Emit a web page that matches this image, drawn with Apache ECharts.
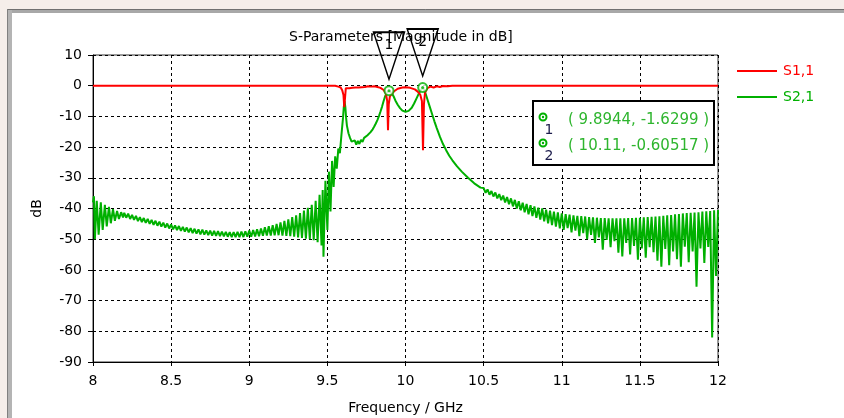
<!DOCTYPE html>
<html><head><meta charset="utf-8">
<script src="https://cdn.jsdelivr.net/npm/echarts@6/dist/echarts.min.js"></script>
<style>html,body{margin:0;padding:0;background:#fff}#c{width:844px;height:418px}</style>
</head><body><div id="c"></div>
<script>
// ---- data ----
const xTickMin = 8, xTickMax = 12, xTickStep = 0.5;
const yTickMin = -90, yTickMax = 10, yTickStep = 10;

const seriesNames = ['S1,1', 'S2,1'];

// S1,1 [GHz, dB]
const s11 = [
  [8.00,0],[9.55,0],[9.57,-0.3],[9.585,-0.6],[9.595,-1.5],[9.603,-3],[9.608,-7],[9.613,-4],[9.618,-0.8],
  [9.63,-0.4],[9.64,-0.8],[9.65,-0.3],[9.66,-0.7],[9.67,-0.3],[9.68,-0.6],[9.69,-0.2],[9.70,-0.6],[9.71,-0.2],
  [9.72,-0.5],[9.73,-0.2],[9.74,-0.4],[9.76,-0.2],[9.78,-0.3],[9.80,-0.2],[9.82,-0.4],[9.84,-0.7],[9.86,-1.4],
  [9.875,-2.6],[9.883,-5],[9.888,-14.5],[9.893,-6],[9.90,-3.5],[9.91,-2.8],[9.925,-1.9],[9.95,-1.0],[9.98,-0.6],
  [10.00,-0.5],[10.03,-0.7],[10.06,-1.2],[10.08,-2.0],[10.095,-3.0],[10.105,-5],[10.112,-21],[10.118,-6],
  [10.125,-2.2],[10.14,-0.8],[10.16,-0.3],[10.18,-0.6],[10.20,-0.2],[10.22,-0.4],[10.24,-0.1],[10.27,-0.2],
  [10.30,0],[12.00,0]
];

// S2,1 [GHz, dB]
const s21 = [
  [8.000,-38],[8.006,-36],[8.012,-50],[8.024,-37.5],[8.036,-48.5],[8.050,-38],[8.062,-47],[8.076,-38.8],
  [8.088,-45.8],[8.102,-39.5],[8.114,-44.8],[8.128,-40.2],[8.140,-44],[8.154,-40.8],[8.166,-43.4],[8.180,-41.2],[8.192,-42.9],
  [8.2000,-41.4],[8.2125,-43.0],[8.2250,-41.7],[8.2375,-43.4],
  [8.2500,-42.1],[8.2625,-43.7],[8.2750,-42.4],[8.2875,-44.1],
  [8.3000,-42.8],[8.3125,-44.4],[8.3250,-43.1],[8.3375,-44.7],
  [8.3500,-43.4],[8.3625,-45.0],[8.3750,-43.7],[8.3875,-45.3],
  [8.4000,-44.0],[8.4125,-45.6],[8.4250,-44.3],[8.4375,-45.9],
  [8.4500,-44.6],[8.4625,-46.2],[8.4750,-44.9],[8.4875,-46.5],
  [8.5000,-45.2],[8.5125,-46.8],[8.5250,-45.5],[8.5375,-47.0],
  [8.5500,-45.7],[8.5625,-47.3],[8.5750,-46.0],[8.5875,-47.5],
  [8.6000,-46.2],[8.6125,-47.8],[8.6250,-46.4],[8.6375,-48.0],
  [8.6500,-46.6],[8.6625,-48.2],[8.6750,-46.8],[8.6875,-48.4],
  [8.7000,-46.9],[8.7125,-48.5],[8.7250,-47.1],[8.7375,-48.7],
  [8.7500,-47.2],[8.7625,-48.8],[8.7750,-47.3],[8.7875,-48.9],
  [8.8000,-47.4],[8.8125,-49.0],[8.8250,-47.5],[8.8375,-49.1],
  [8.8500,-47.6],[8.8625,-49.2],[8.8750,-47.7],[8.8875,-49.3],
  [8.9000,-47.7],[8.9125,-49.3],[8.9250,-47.6],[8.9375,-49.3],
  [8.9500,-47.5],[8.9625,-49.3],[8.9750,-47.4],[8.9875,-49.2],
  [9.0000,-47.2],[9.0125,-49.2],[9.0250,-47.0],[9.0375,-49.1],
  [9.0500,-46.8],[9.0625,-49.0],[9.0750,-46.5],[9.0875,-48.9],
  [9.1000,-46.1],[9.1125,-48.8],[9.1250,-45.8],[9.1375,-48.8],
  [9.1500,-45.4],[9.1625,-48.7],[9.1750,-45.0],[9.1875,-48.7],
  [9.2000,-44.5],[9.2125,-48.8],[9.2250,-44.0],[9.2375,-48.9],
  [9.2500,-43.5],[9.2625,-49.0],[9.2750,-42.8],[9.2875,-49.2],
  [9.3000,-42.2],[9.3125,-49.4],[9.3250,-41.5],[9.3375,-49.6],
  [9.3500,-40.7],[9.3625,-49.8],[9.3750,-39.8],[9.3875,-50.0],
  [9.4000,-38.8],[9.4125,-50.3],[9.4250,-37.5],[9.4375,-51.0],
  [9.4500,-35.5],[9.4625,-52.0],[9.4700,-34.0],[9.4750,-55.7],
  [9.4875,-31.0],[9.5000,-47.0],[9.5100,-28.0],[9.5200,-41.0],[9.5300,-24.5],[9.5400,-33.0],
  [9.5500,-23.0],[9.5600,-27.0],[9.5700,-20.5],[9.5800,-22.0],[9.5900,-16.0],[9.6000,-10.5],
  [9.6050,-7.0],[9.6100,-5.0],
  [9.615,-7],[9.620,-10.5],[9.625,-13],[9.635,-15.5],[9.645,-17],[9.655,-18.2],[9.665,-18.8],[9.675,-17.8],
  [9.685,-19.2],[9.695,-18.0],[9.705,-19.0],[9.715,-17.6],[9.725,-18.3],[9.735,-17.0],[9.745,-17.3],
  [9.755,-16.2],[9.765,-16.0],[9.775,-15.2],[9.79,-14.2],[9.80,-13.3],[9.81,-12.3],[9.82,-11.2],
  [9.83,-9.9],[9.84,-8.4],[9.85,-6.8],[9.86,-5.0],[9.87,-3.4],[9.88,-2.3],[9.8944,-1.63],[9.905,-1.9],
  [9.915,-2.6],[9.925,-3.6],[9.935,-4.8],[9.95,-6.2],[9.965,-7.3],[9.98,-8.1],[10.00,-8.5],[10.02,-8.2],
  [10.04,-7.2],[10.055,-5.8],[10.07,-4.2],[10.085,-2.6],[10.095,-1.6],[10.11,-0.61],[10.12,-1.3],
  [10.13,-2.8],[10.14,-4.4],[10.155,-6.8],[10.17,-9.2],[10.185,-11.6],[10.20,-13.8],[10.22,-16.6],
  [10.24,-19.0],[10.26,-21.0],[10.28,-22.8],[10.30,-24.3],[10.33,-26.3],[10.36,-28.0],[10.40,-30.0],
  [10.44,-31.8],[10.48,-33.2],
  [10.5000,-33.3],[10.5125,-34.9],[10.5250,-33.8],[10.5375,-35.5],
  [10.5500,-34.3],[10.5625,-36.1],[10.5750,-34.8],[10.5875,-36.7],
  [10.6000,-35.3],[10.6125,-37.3],[10.6250,-35.8],[10.6375,-38.0],
  [10.6500,-36.3],[10.6625,-38.6],[10.6750,-36.7],[10.6875,-39.3],
  [10.7000,-37.2],[10.7125,-40.0],[10.7250,-37.6],[10.7375,-40.6],
  [10.7500,-38.1],[10.7625,-41.2],[10.7750,-38.5],[10.7875,-41.9],
  [10.8000,-38.9],[10.8125,-42.5],[10.8250,-39.3],[10.8375,-43.0],
  [10.8500,-39.7],[10.8625,-43.6],[10.8750,-40.0],[10.8875,-44.2],
  [10.9000,-40.4],[10.9125,-44.8],[10.9250,-40.7],[10.9375,-45.4],
  [10.9500,-41.0],[10.9625,-45.9],[10.9750,-41.3],[10.9875,-46.5],
  [11.0000,-41.6],[11.0125,-47.0],[11.0250,-41.8],[11.0375,-46.4],
  [11.0500,-42.0],[11.0625,-47.8],[11.0750,-42.2],[11.0875,-47.2],
  [11.1000,-42.4],[11.1125,-49.0],[11.1250,-42.5],[11.1375,-48.0],
  [11.1500,-42.6],[11.1625,-50.0],[11.1750,-42.8],[11.1875,-48.6],
  [11.2000,-42.9],[11.2125,-51.2],[11.2250,-43.0],[11.2375,-49.4],
  [11.2500,-43.1],[11.2625,-53.4],[11.2750,-43.1],[11.2875,-50.2],
  [11.3000,-43.2],[11.3125,-52.6],[11.3250,-43.2],[11.3375,-50.6],
  [11.3500,-43.2],[11.3625,-54.4],[11.3750,-43.2],[11.3875,-55.6],
  [11.4000,-43.2],[11.4125,-51.2],[11.4250,-43.1],[11.4375,-55.0],
  [11.4500,-43.1],[11.4625,-52.2],[11.4750,-43.0],[11.4875,-56.7],
  [11.5000,-43.0],[11.5125,-53.0],[11.5250,-42.9],[11.5375,-56.0],
  [11.5500,-42.8],[11.5625,-52.6],[11.5750,-42.7],[11.5875,-54.2],
  [11.6000,-42.6],[11.6125,-57.0],[11.6250,-42.5],[11.6375,-59.0],
  [11.6500,-42.4],[11.6625,-53.2],[11.6750,-42.2],[11.6875,-58.5],
  [11.7000,-42.1],[11.7125,-54.0],[11.7250,-41.9],[11.7375,-56.5],
  [11.7500,-41.8],[11.7625,-59.0],[11.7750,-41.6],[11.7875,-52.4],
  [11.8000,-41.5],[11.8125,-57.5],[11.8250,-41.4],[11.8375,-54.0],
  [11.8500,-41.3],[11.8625,-65.5],[11.8750,-41.2],[11.8875,-53.0],
  [11.9000,-41.0],[11.9125,-57.7],[11.9250,-40.9],[11.9375,-52.5],
  [11.9500,-40.8],[11.9625,-82.0],[11.9750,-40.6],[11.9875,-62.0],
  [12.0000,-40.5]
];

// markers
const markerLabels = ['1', '2'];
const markerFreq = [9.8944, 10.11];
const markerDB = [-1.6299, -0.60517];

// ---- chart ----
const FONT = 'DejaVu Sans';
const RED = '#ff0000', GREEN = '#00b000', TXTGREEN = '#2eb52e';
const markerPts = markerFreq.map((f, i) => [f, markerDB[i]]);
const markerText = markerFreq.map((f, i) => '( ' + f + ', ' + markerDB[i] + ' )');
const LINE_ICON = 'path://M0,0H40V2H0Z';
const ZB = 100;

const chart = echarts.init(document.getElementById('c'), null, {renderer: 'canvas'});
chart.setOption({
  animation: false,
  backgroundColor: '#ffffff',
  textStyle: {fontFamily: FONT},
  title: {
    text: 'S-Parameters [Magnitude in dB]',
    left: 289, top: 30, padding: 0,
    textStyle: {fontFamily: FONT, fontSize: 14, fontWeight: 'normal', color: '#000'}
  },
  legend: {
    orient: 'vertical', left: 737, top: 64, padding: 0,
    itemWidth: 40, itemHeight: 14, itemGap: 12,
    symbolKeepAspect: true,
    data: [
      {name: seriesNames[0], icon: LINE_ICON, itemStyle: {color: RED}, textStyle: {color: RED}},
      {name: seriesNames[1], icon: LINE_ICON, itemStyle: {color: GREEN}, textStyle: {color: GREEN}}
    ],
    textStyle: {fontFamily: FONT, fontSize: 14, padding: [0, 0, 0, 1]}
  },
  grid: {left: 93, right: 126, top: 55, bottom: 56, show: true, borderColor: '#333', borderWidth: 1, backgroundColor: '#fff', outerBoundsMode: 'none', containLabel: false},
  xAxis: {
    type: 'value', min: xTickMin, max: xTickMax, interval: xTickStep,
    name: 'Frequency / GHz', nameLocation: 'middle', nameGap: 39,
    nameTextStyle: {fontFamily: FONT, fontSize: 14, color: '#000'},
    axisLine: {show: true, onZero: false, lineStyle: {color: '#000', width: 1}},
    axisTick: {show: true, length: 4, lineStyle: {color: '#000'}},
    axisLabel: {fontFamily: FONT, fontSize: 14, color: '#000', margin: 12},
    splitLine: {show: true, lineStyle: {color: '#000', type: [3, 3], width: 1}}
  },
  yAxis: {
    type: 'value', min: yTickMin, max: yTickMax, interval: yTickStep,
    name: 'dB', nameLocation: 'middle', nameGap: 49, nameRotate: 90,
    nameTextStyle: {fontFamily: FONT, fontSize: 14, color: '#000'},
    axisLine: {show: true, onZero: false, lineStyle: {color: '#000', width: 1}},
    axisTick: {show: true, length: 5, lineStyle: {color: '#000'}},
    axisLabel: {fontFamily: FONT, fontSize: 14, color: '#000', margin: 11},
    splitLine: {show: true, lineStyle: {color: '#000', type: [3, 3], width: 1}}
  },
  series: [
    {
      name: seriesNames[0], type: 'line', data: s11, symbol: 'none', z: 4,
      lineStyle: {color: RED, width: 2}, itemStyle: {color: RED}
    },
    {
      name: seriesNames[1], type: 'line', data: s21, symbol: 'none', z: 3,
      lineStyle: {color: GREEN, width: 2}, itemStyle: {color: GREEN},
      markPoint: {
        symbol: 'path://M0,0 L31,0 L15.5,47 Z',
        symbolSize: [31, 47],
        symbolOffset: [0, -35],
        itemStyle: {color: 'rgba(255,255,255,0)', borderColor: '#000', borderWidth: 1.6},
        label: {show: true, position: 'inside', offset: [0, -10], color: '#000', fontFamily: FONT, fontSize: 14,
                formatter: p => p.name},
        data: markerPts.map((c, i) => ({name: markerLabels[i], coord: c}))
      }
    },
    {
      name: 'markerRing', type: 'scatter', data: markerPts, symbol: 'circle', symbolSize: 9, z: 6,
      itemStyle: {color: '#fff', borderColor: GREEN, borderWidth: 2}
    },
    {
      name: 'markerDot', type: 'scatter', data: markerPts, symbol: 'circle', symbolSize: 3, z: 7,
      itemStyle: {color: GREEN}
    }
  ],
  graphic: [
    // window frame
    {type: 'rect', shape: {x: 0, y: 0, width: 844, height: 9}, style: {fill: '#f5eeea'}, z: -10, silent: true},
    {type: 'rect', shape: {x: 0, y: 0, width: 7, height: 418}, style: {fill: '#f5eeea'}, z: -10, silent: true},
    {type: 'rect', shape: {x: 7, y: 9, width: 837, height: 4}, style: {fill: '#a8a8a8'}, z: 10, silent: true},
    {type: 'rect', shape: {x: 7, y: 9, width: 5, height: 409}, style: {fill: '#b4b4b4'}, z: 10, silent: true},
    {type: 'line', shape: {x1: 7, y1: 9.5, x2: 844, y2: 9.5}, style: {stroke: '#707070', lineWidth: 1}, z: 11, silent: true},
    {type: 'line', shape: {x1: 7.5, y1: 9, x2: 7.5, y2: 418}, style: {stroke: '#808080', lineWidth: 1}, z: 11, silent: true},
    // marker readout box
    {type: 'rect', shape: {x: 533, y: 101, width: 181, height: 64}, style: {fill: '#fff', stroke: '#000', lineWidth: 2}, z: ZB},
    {type: 'circle', shape: {cx: 543, cy: 117, r: 3.5}, style: {fill: '#fff', stroke: GREEN, lineWidth: 2}, z: ZB + 1},
    {type: 'circle', shape: {cx: 543, cy: 117, r: 1.2}, style: {fill: GREEN}, z: ZB + 2},
    {type: 'text', x: 549, y: 130, style: {text: markerLabels[0], fill: '#1c1c4c', font: '14px ' + FONT, align: 'center', verticalAlign: 'middle'}, z: ZB + 1},
    {type: 'text', x: 568, y: 120, style: {text: markerText[0], fill: TXTGREEN, font: '15px ' + FONT, verticalAlign: 'middle'}, z: ZB + 1},
    {type: 'circle', shape: {cx: 543, cy: 143, r: 3.5}, style: {fill: '#fff', stroke: GREEN, lineWidth: 2}, z: ZB + 1},
    {type: 'circle', shape: {cx: 543, cy: 143, r: 1.2}, style: {fill: GREEN}, z: ZB + 2},
    {type: 'text', x: 549, y: 156, style: {text: markerLabels[1], fill: '#1c1c4c', font: '14px ' + FONT, align: 'center', verticalAlign: 'middle'}, z: ZB + 1},
    {type: 'text', x: 568, y: 146, style: {text: markerText[1], fill: TXTGREEN, font: '15px ' + FONT, verticalAlign: 'middle'}, z: ZB + 1}
  ]
});
</script>
</body></html>
